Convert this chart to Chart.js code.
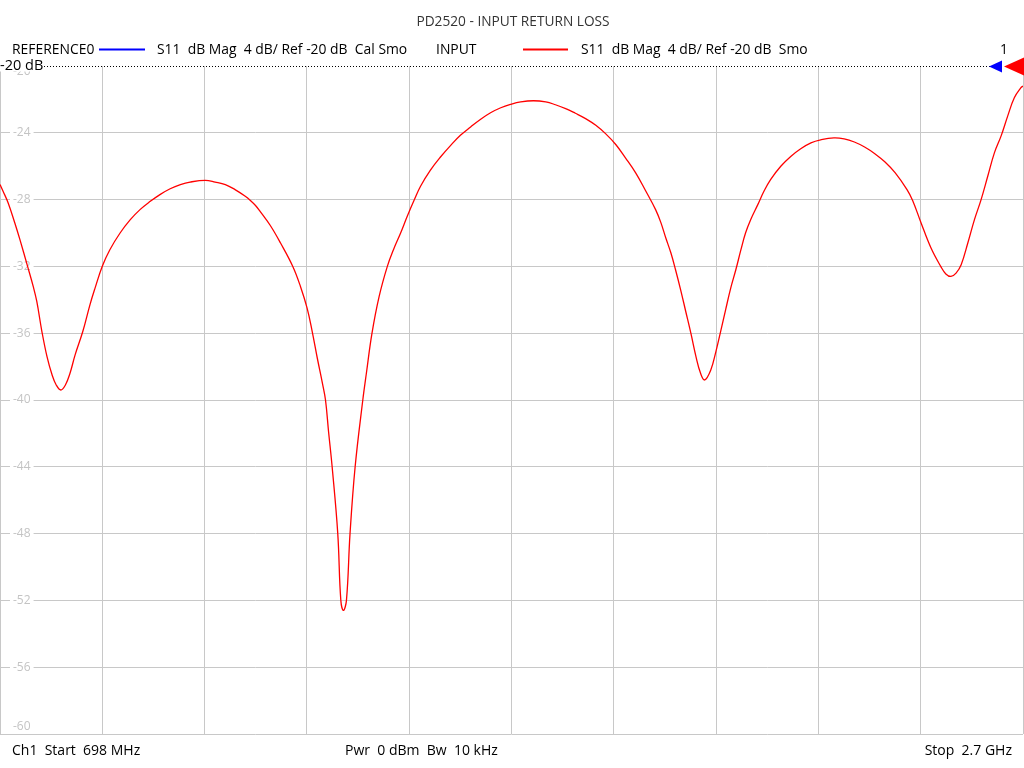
<!DOCTYPE html>
<html>
<head>
<meta charset="utf-8">
<title>PD2520 - INPUT RETURN LOSS</title>
<script src="https://cdn.jsdelivr.net/npm/chart.js@4/dist/chart.umd.min.js"></script>
<style>
  html, body { margin: 0; padding: 0; background: #fff; }
  #wrap { width: 1024px; height: 768px; position: relative; }
</style>
</head>
<body>
<div id="wrap"><canvas id="myChart" width="1024" height="768"></canvas></div>
<script>
/* данные трассы S11 (частота в МГц, уровень в дБ) */
const freqMHz = [
  698, 704, 714, 727, 737, 752, 763, 770, 780, 790, 800, 808, 817, 826, 835, 845, 860, 874, 884, 898,
  913, 933, 953, 972, 990, 1011, 1031, 1051, 1070, 1100, 1119, 1139, 1158, 1178, 1188, 1198, 1207, 1227, 1247, 1271, 1286,
  1299, 1309, 1319, 1329, 1335, 1341, 1348, 1359, 1365, 1370, 1376, 1383, 1393, 1408, 1415, 1426, 1440, 1456, 1468, 1482, 1495,
  1509, 1521, 1540, 1560, 1580, 1599, 1619, 1638, 1658, 1678, 1697, 1717, 1742, 1766, 1785, 1805, 1824, 1844, 1864, 1883,
  1903, 1922, 1942, 1962, 1981, 1991, 2001, 2011, 2020, 2030, 2040, 2050, 2060, 2069, 2077, 2089, 2099, 2109, 2118, 2128,
  2138, 2148, 2157, 2167, 2181, 2193, 2206, 2226, 2246, 2265, 2285, 2304, 2330, 2350, 2370, 2390, 2410, 2430, 2450, 2473, 2484,
  2500, 2520, 2539, 2549, 2559, 2569, 2579, 2592, 2605, 2618, 2631, 2644, 2657, 2670, 2683, 2696, 2700
];
const s11dB = [
  -27.1, -27.5, -28.2, -29.4, -30.4, -32.0, -33.2, -34.1, -35.9, -37.4, -38.5, -39.1, -39.4, -39.1, -38.4, -37.3, -35.9, -34.3, -33.3, -32.0,
  -31.0, -30.0, -29.2, -28.6, -28.15, -27.7, -27.35, -27.1, -26.95, -26.85, -26.95, -27.1, -27.4, -27.8, -28.05, -28.35, -28.7, -29.55, -30.6, -32.0, -33.2,
  -34.5, -35.9, -37.5, -39.0, -40.0, -41.9, -44.0, -48.0, -52.0, -52.6, -52.0, -48.0, -44.0, -40.0, -38.4, -36.0, -33.8, -32.0, -31.0, -30.0, -29.0,
  -28.0, -27.2, -26.25, -25.45, -24.75, -24.15, -23.65, -23.2, -22.8, -22.5, -22.3, -22.15, -22.08, -22.15, -22.32, -22.55, -22.83, -23.15, -23.55, -24.05,
  -24.7, -25.5, -26.4, -27.5, -28.6, -29.35, -30.3, -31.2, -32.2, -33.4, -34.7, -36.0, -37.4, -38.4, -38.8, -38.2, -37.1, -35.8, -34.6, -33.3,
  -32.2, -31.0, -30.0, -29.2, -28.3, -27.5, -26.8, -26.0, -25.4, -24.95, -24.6, -24.42, -24.3, -24.36, -24.55, -24.85, -25.25, -25.75, -26.4, -27.4, -28.05,
  -29.35, -30.9, -32.0, -32.45, -32.6, -32.4, -31.9, -30.6, -29.2, -28.0, -26.6, -25.2, -24.2, -23.0, -21.9, -21.3, -21.2
];

/* шкалы */
const startMHz = 698;
const stopMHz = 2700;
const xDivisions = 10;
const yTicks = [-20, -24, -28, -32, -36, -40, -44, -48, -52, -56, -60];
const refLevel = -20;

/* подписи */
const titleText = 'PD2520 - INPUT RETURN LOSS';
const legendItems = [
  { name: 'REFERENCE0', color: '#0000ff', desc: 'S11  dB Mag  4 dB/ Ref -20 dB  Cal Smo' },
  { name: 'INPUT', color: '#ff0000', desc: 'S11  dB Mag  4 dB/ Ref -20 dB  Smo' }
];
const footerLeft = 'Ch1  Start  698 MHz';
const footerMid = 'Pwr  0 dBm  Bw  10 kHz';
const footerRight = 'Stop  2.7 GHz';

const FONT = '"Open Sans", "Segoe UI", sans-serif';

/* плагин: заголовок, легенда, линия опорного уровня, подписи оси Y */
const overlay = {
  id: 'overlay',
  beforeDatasetsDraw(chart) {
    const ctx = chart.ctx;
    const y = chart.scales.y;
    ctx.save();
    ctx.font = '12px ' + FONT;
    ctx.textBaseline = 'middle';
    ctx.textAlign = 'left';
    yTicks.forEach(v => {
      let py = y.getPixelForValue(v);
      if (v === yTicks[0]) py += 6;
      if (v === yTicks[yTicks.length - 1]) py -= 7;
      const label = String(v);
      const w = ctx.measureText(label).width;
      ctx.fillStyle = '#ffffff';
      ctx.fillRect(10, py - 1, w + 6, 3);
      ctx.fillStyle = '#c4c4c4';
      ctx.fillText(label, 13, py);
    });
    ctx.restore();
  },
  afterDraw(chart) {
    const ctx = chart.ctx;
    const area = chart.chartArea;
    const refY = Math.round(chart.scales.y.getPixelForValue(refLevel)) + 0.5;
    ctx.save();

    // заголовок
    ctx.fillStyle = '#333333';
    ctx.font = '13.7px ' + FONT;
    ctx.textAlign = 'center';
    ctx.textBaseline = 'middle';
    ctx.fillText(titleText, 513, 22);

    // легенда
    ctx.font = '13.9px ' + FONT;
    ctx.textAlign = 'left';
    ctx.fillStyle = '#000000';
    ctx.fillText(legendItems[0].name, 12, 50);
    ctx.fillText(legendItems[0].desc, 157, 50);
    ctx.fillText(legendItems[1].name, 436, 50);
    ctx.fillText(legendItems[1].desc, 581, 50);
    ctx.fillText('1', 1000, 50);
    ctx.lineWidth = 2;
    ctx.strokeStyle = legendItems[0].color;
    ctx.beginPath(); ctx.moveTo(99, 49.5); ctx.lineTo(145, 49.5); ctx.stroke();
    ctx.strokeStyle = legendItems[1].color;
    ctx.beginPath(); ctx.moveTo(523, 49.5); ctx.lineTo(568, 49.5); ctx.stroke();

    // опорный уровень
    ctx.strokeStyle = '#000000';
    ctx.lineWidth = 1;
    ctx.setLineDash([1, 2]);
    ctx.beginPath(); ctx.moveTo(44, refY); ctx.lineTo(990, refY); ctx.stroke();
    ctx.setLineDash([]);
    ctx.fillStyle = '#ffffff';
    ctx.fillRect(0, refY - 8, 43, 13);
    ctx.fillStyle = '#000000';
    ctx.font = '14.5px ' + FONT;
    ctx.fillText('-20 dB', 0, refY - 1);

    // маркеры опорного уровня
    ctx.fillStyle = '#0000ff';
    ctx.beginPath(); ctx.moveTo(989, refY); ctx.lineTo(1002, refY - 6); ctx.lineTo(1002, refY + 6); ctx.closePath(); ctx.fill();
    ctx.fillStyle = '#ff0000';
    ctx.beginPath(); ctx.moveTo(1004, refY); ctx.lineTo(area.right + 1, refY - 9); ctx.lineTo(area.right + 1, refY + 9); ctx.closePath(); ctx.fill();

    // подвал
    ctx.font = '14px ' + FONT;
    ctx.fillStyle = '#000000';
    ctx.fillText(footerLeft, 12, 751);
    ctx.fillText(footerMid, 345, 751);
    ctx.textAlign = 'right';
    ctx.fillText(footerRight, 1012, 751);
    ctx.restore();
  }
};

const chart = new Chart(document.getElementById('myChart'), {
  type: 'line',
  data: {
    datasets: [{
      label: 'INPUT',
      data: freqMHz.map((f, i) => ({ x: f, y: s11dB[i] })),
      borderColor: '#ff0000',
      borderWidth: 1.3,
      pointRadius: 0,
      fill: false,
      tension: 0.4
    }]
  },
  options: {
    responsive: false,
    animation: false,
    layout: { padding: { left: 0, right: 1, top: 66, bottom: 34 } },
    plugins: {
      legend: { display: false },
      title: { display: false },
      tooltip: { enabled: false }
    },
    scales: {
      x: {
        type: 'linear',
        min: startMHz,
        max: stopMHz,
        afterBuildTicks: (scale) => {
          const step = (stopMHz - startMHz) / xDivisions;
          scale.ticks = Array.from({ length: xDivisions + 1 }, (_, i) => ({ value: startMHz + i * step }));
        },
        ticks: { display: false },
        grid: { color: '#c8c8c8', lineWidth: 1, drawTicks: false },
        border: { display: false }
      },
      y: {
        min: -60,
        max: -20,
        afterBuildTicks: (scale) => { scale.ticks = yTicks.map(v => ({ value: v })); },
        ticks: { display: false },
        grid: {
          color: (c) => c.tick && c.tick.value === refLevel ? 'rgba(0,0,0,0)' : '#c8c8c8',
          lineWidth: 1,
          drawTicks: false
        },
        border: { display: false }
      }
    }
  },
  plugins: [overlay]
});
</script>
</body>
</html>
